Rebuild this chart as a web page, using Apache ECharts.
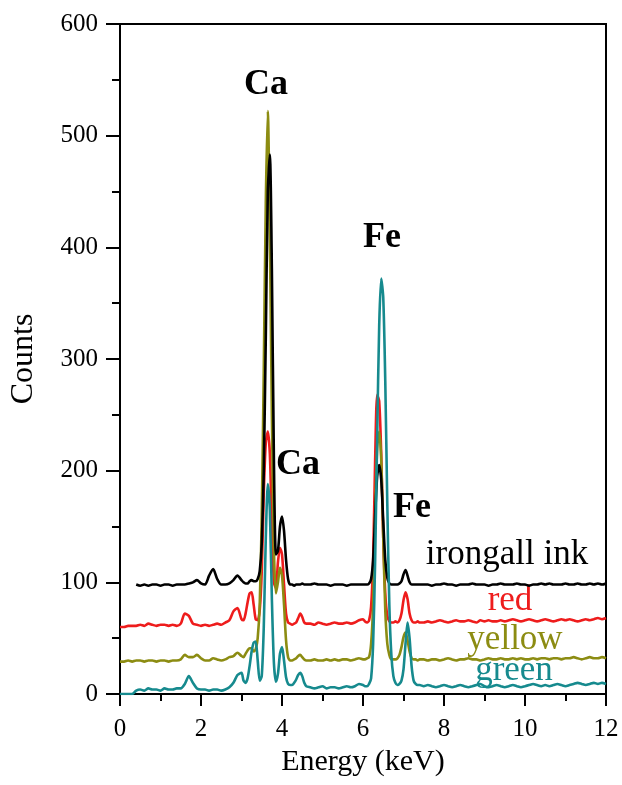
<!DOCTYPE html>
<html>
<head>
<meta charset="utf-8">
<script src="https://cdn.jsdelivr.net/npm/echarts@6/dist/echarts.min.js"></script>
<style>
  html, body { margin: 0; padding: 0; background: #fff; }
  #chart { width: 622px; height: 785px; }
</style>
</head>
<body>
<div id="chart"></div>
<script>
// energy grid (keV), finer around the Ca and Fe lines
const energy = [
  0, 0.1, 0.2, 0.3, 0.4, 0.5, 0.6, 0.7, 0.8, 0.9, 1.0, 1.1, 1.2, 1.3, 1.4, 1.5, 1.6, 1.7, 1.8, 1.9, 2.0, 2.1, 2.2, 2.3, 2.4, 2.5, 2.6, 2.7, 2.8, 2.9, 3.0,
  3.05, 3.1, 3.15, 3.2, 3.25, 3.3, 3.35, 3.4, 3.45, 3.5, 3.55, 3.6, 3.65, 3.7, 3.75, 3.8, 3.85, 3.9, 3.95, 4.0, 4.05, 4.1, 4.15, 4.2, 4.25, 4.3, 4.35, 4.4, 4.45, 4.5, 4.55, 4.6,
  4.7, 4.8, 4.9, 5.0, 5.1, 5.2, 5.3, 5.4, 5.5, 5.6, 5.7, 5.8, 5.9, 6.0,
  6.05, 6.1, 6.15, 6.2, 6.25, 6.3, 6.35, 6.4, 6.45, 6.5, 6.55, 6.6, 6.65, 6.7, 6.75, 6.8, 6.85, 6.9, 6.95, 7.0, 7.05, 7.1, 7.15, 7.2, 7.25, 7.3, 7.35, 7.4,
  7.5, 7.6, 7.7, 7.8, 7.9, 8.0, 8.1, 8.2, 8.3, 8.4, 8.5, 8.6, 8.7, 8.8, 8.9, 9.0, 9.1, 9.2, 9.3, 9.4, 9.5, 9.6, 9.7, 9.8, 9.9, 10.0,
  10.1, 10.2, 10.3, 10.4, 10.5, 10.6, 10.7, 10.8, 10.9, 11.0, 11.1, 11.2, 11.3, 11.4, 11.5, 11.6, 11.7, 11.8, 11.9, 12.0
];

const irongallInk = [
  null, null, null, null, 98, 97, 98, 97, 98, 98, 97, 98, 98, 97, 98, 98, 98, 99, 100, 102, 99, 98, 106, 112, 103, 98, 98, 99, 102, 106, 102,
  100, 99, 99, 101, 102, 101, 101, 103, 110, 135, 200, 320, 450, 483, 380, 210, 125, 128, 150, 159, 146, 120, 103, 98, 98, 97, 98, 98, 98, 99, 98, 98,
  98, 99, 98, 98, 98, 97, 98, 98, 98, 97, 98, 98, 98, 98,
  98, 98, 99, 103, 120, 160, 195, 205, 192, 155, 120, 104, 99, 98, 98, 98, 98, 99, 101, 107, 111, 106, 100, 98, 98, 98, 98, 98,
  98, 98, 97, 98, 98, 99, 98, 98, 97, 98, 98, 98, 99, 98, 98, 98, 97, 98, 98, 99,
  98, 98, 98, 99, 98, 98, 97, 98, 98, 99, 98, 99, 98, 98, 98, 99, 98, 98, 99, 98, 98, 99, 98, 99, 98, 99
];

const red = [
  60, 60, 61, 61, 61, 62, 61, 63, 62, 61, 62, 62, 61, 62, 61, 63, 72, 70, 63, 62, 61, 62, 61, 62, 63, 62, 64, 66, 74, 77, 67,
  66, 72, 82, 90, 91, 80, 67, 66, 75, 110, 180, 225, 235, 215, 150, 100, 95, 118, 131, 125, 98, 72, 64, 63, 62, 63, 64, 68, 72, 69, 64, 63,
  63, 62, 64, 63, 62, 63, 64, 63, 63, 64, 63, 64, 66, 67,
  65, 64, 66, 78, 120, 210, 268, 262, 215, 140, 90, 70, 65, 64, 64, 65, 64, 66, 72, 84, 91, 85, 72, 66, 64, 64, 65, 64,
  64, 65, 64, 65, 66, 65, 64, 65, 66, 65, 65, 66, 65, 64, 66, 65, 66, 65, 65, 66,
  65, 66, 67, 66, 65, 66, 67, 66, 65, 66, 67, 66, 65, 66, 67, 66, 67, 66, 65, 66, 67, 66, 67, 68, 67, 68
];

const yellow = [
  29, 29, 30, 29, 30, 30, 29, 30, 30, 29, 30, 30, 29, 30, 30, 31, 35, 33, 33, 35, 32, 30, 30, 32, 31, 30, 31, 33, 34, 37, 34,
  33, 36, 39, 41, 41, 38, 40, 50, 80, 160, 290, 440, 522, 410, 250, 130, 90, 100, 113, 106, 80, 48, 33, 30, 30, 31, 32, 34, 35, 33, 31, 30,
  30, 31, 30, 30, 31, 30, 31, 30, 31, 31, 30, 31, 32, 31,
  31, 32, 33, 45, 80, 160, 220, 235, 210, 140, 75, 45, 35, 31, 31, 31, 32, 35, 42, 51, 55, 48, 38, 32, 31, 31, 30, 31,
  31, 30, 31, 31, 30, 31, 32, 31, 30, 31, 31, 32, 31, 31, 30, 31, 32, 31, 31, 32,
  31, 31, 32, 31, 32, 31, 31, 32, 31, 32, 32, 31, 32, 32, 31, 32, 32, 33, 32, 31, 32, 33, 32, 32, 33, 32
];

const green = [
  0, 0, 0, 0, 3, 4, 3, 5, 4, 4, 3, 5, 4, 4, 5, 5, 9, 16, 10, 5, 4, 4, 3, 4, 4, 3, 4, 6, 10, 17, 19,
  12, 10, 14, 25, 38, 46, 47, 30, 12, 16, 60, 140, 188, 165, 85, 28, 11, 18, 36, 42, 30, 15, 9, 8, 8, 10, 13, 17, 19, 16, 10, 7,
  6, 5, 6, 7, 5, 6, 6, 5, 6, 7, 6, 7, 9, 8,
  7, 7, 9, 14, 45, 120, 230, 330, 372, 355, 280, 170, 80, 35, 16, 10, 8, 9, 12, 22, 45, 64, 50, 25, 12, 9, 8, 8,
  7, 8, 7, 6, 7, 8, 7, 6, 7, 8, 7, 6, 7, 8, 9, 7, 6, 7, 8, 7,
  6, 7, 8, 7, 6, 7, 8, 9, 8, 7, 8, 7, 8, 9, 8, 7, 8, 9, 10, 9, 8, 9, 10, 9, 10, 9
];

const seriesNames = ['red', 'yellow', 'irongall ink', 'green'];
const seriesColors = ['#ee1c1c', '#8c8c12', '#000000', '#168a8e'];
const seriesValues = [red, yellow, irongallInk, green];

const xTicks = [0, 2, 4, 6, 8, 10, 12];
const yTicks = [0, 100, 200, 300, 400, 500, 600];

const serif = '"Liberation Serif", "Times New Roman", serif';

const chart = echarts.init(document.getElementById('chart'));

const option = {
  animation: false,
  backgroundColor: '#fff',
  grid: {
    left: 120,
    right: 16,
    top: 24,
    bottom: 91,
    outerBoundsMode: 'none',
    show: true,
    borderColor: '#000',
    borderWidth: 2
  },
  xAxis: {
    type: 'value',
    min: xTicks[0],
    max: xTicks[xTicks.length - 1],
    interval: 2,
    name: 'Energy (keV)',
    nameLocation: 'middle',
    nameGap: 52,
    nameTextStyle: { fontFamily: serif, fontSize: 30, color: '#000' },
    axisLine: { show: true, lineStyle: { color: '#000', width: 2 } },
    axisTick: { show: true, length: 12, lineStyle: { color: '#000', width: 2 } },
    minorTick: { show: true, splitNumber: 2, length: 7, lineStyle: { color: '#000', width: 2 } },
    axisLabel: { fontFamily: serif, fontSize: 25, color: '#000', margin: 23 },
    splitLine: { show: false }
  },
  yAxis: {
    type: 'value',
    min: yTicks[0],
    max: yTicks[yTicks.length - 1],
    interval: 100,
    name: 'Counts',
    nameLocation: 'middle',
    nameGap: 80,
    nameTextStyle: { fontFamily: serif, fontSize: 32, color: '#000' },
    axisLine: { show: true, lineStyle: { color: '#000', width: 2 } },
    axisTick: { show: true, length: 14, lineStyle: { color: '#000', width: 2 } },
    minorTick: { show: true, splitNumber: 2, length: 8, lineStyle: { color: '#000', width: 2 } },
    axisLabel: { fontFamily: serif, fontSize: 25, color: '#000', margin: 22 },
    splitLine: { show: false }
  },
  series: seriesValues.map((vals, k) => ({
    name: seriesNames[k],
    type: 'line',
    data: energy.map((e, i) => [e, vals[i]]),
    showSymbol: false,
    connectNulls: false,
    smooth: 0.25,
    lineStyle: { color: seriesColors[k], width: 2.6 },
    itemStyle: { color: seriesColors[k] },
    z: 2 + k
  })),
  graphic: [
    { type: 'text', x: 266, y: 85, style: { text: 'Ca', font: 'bold 36px ' + serif, fill: '#000', align: 'center', verticalAlign: 'middle' } },
    { type: 'text', x: 382, y: 238, style: { text: 'Fe', font: 'bold 36px ' + serif, fill: '#000', align: 'center', verticalAlign: 'middle' } },
    { type: 'text', x: 298, y: 465, style: { text: 'Ca', font: 'bold 36px ' + serif, fill: '#000', align: 'center', verticalAlign: 'middle' } },
    { type: 'text', x: 412, y: 508, style: { text: 'Fe', font: 'bold 36px ' + serif, fill: '#000', align: 'center', verticalAlign: 'middle' } },
    { type: 'text', x: 507, y: 555, style: { text: 'irongall ink', font: '35px ' + serif, fill: '#000', align: 'center', verticalAlign: 'middle' } },
    { type: 'text', x: 510, y: 601, style: { text: 'red', font: '35px ' + serif, fill: seriesColors[0], align: 'center', verticalAlign: 'middle' } },
    { type: 'text', x: 515, y: 640, style: { text: 'yellow', font: '35px ' + serif, fill: seriesColors[1], align: 'center', verticalAlign: 'middle' } },
    { type: 'text', x: 514, y: 671, style: { text: 'green', font: '35px ' + serif, fill: seriesColors[3], align: 'center', verticalAlign: 'middle' } }
  ]
};

chart.setOption(option);
</script>
</body>
</html>
